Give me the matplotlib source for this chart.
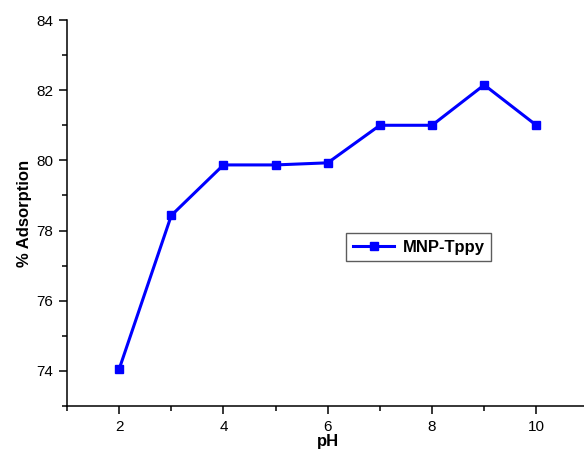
import matplotlib
matplotlib.use("Agg")
import matplotlib.pyplot as plt
from matplotlib.ticker import MultipleLocator

# data
ph = [2, 3, 4, 5, 6, 7, 8, 9, 10]
adsorption = [74.05, 78.43, 79.87, 79.87, 79.93, 81.0, 81.0, 82.15, 81.0]

plt.rcParams["font.family"] = ["Liberation Sans", "DejaVu Sans"]

W, H, DPI = 584, 454, 100
fig = plt.figure(figsize=(W / DPI, H / DPI), dpi=DPI)
fig.patch.set_facecolor("white")

# axes in pixel terms: left 67, right ~588, top 20, bottom 406
left, right, top, bottom = 67, 588.5, 20, 406
ax = fig.add_axes([left / W, 1 - bottom / H, (right - left) / W, (bottom - top) / H])

ax.plot(ph, adsorption, color="#0000ff", lw=2.2, marker="s", ms=6,
        markeredgecolor="#0000ff", label="MNP-Tppy")

ax.set_xlim(1, 11)
ax.set_ylim(73, 84)
ax.xaxis.set_major_locator(MultipleLocator(2))
ax.xaxis.set_minor_locator(MultipleLocator(1))
ax.yaxis.set_major_locator(MultipleLocator(2))
ax.yaxis.set_minor_locator(MultipleLocator(1))

for s in ("top", "right"):
    ax.spines[s].set_visible(False)
for s in ("left", "bottom"):
    ax.spines[s].set_linewidth(1.1)

ax.tick_params(which="major", direction="out", length=6, width=1.1, labelsize=11, pad=4)
ax.tick_params(which="minor", direction="out", length=3.5, width=1.1)

ax.set_xlabel("pH", fontsize=12, fontweight="bold", labelpad=0)
ax.set_ylabel("% Adsorption", fontsize=12, fontweight="bold", labelpad=3)

leg = ax.legend(loc="upper left", bbox_to_anchor=((346 - left) / (right - left), (bottom - 233) / (bottom - top)),
                frameon=True, fancybox=False, handlelength=2.5, borderpad=0.4,
                prop={"weight": "bold", "size": 12}, handletextpad=0.5, borderaxespad=0)
leg.get_frame().set_edgecolor("#333333")
leg.get_frame().set_linewidth(1.0)

fig.savefig("out.png", dpi=DPI, facecolor="white")
